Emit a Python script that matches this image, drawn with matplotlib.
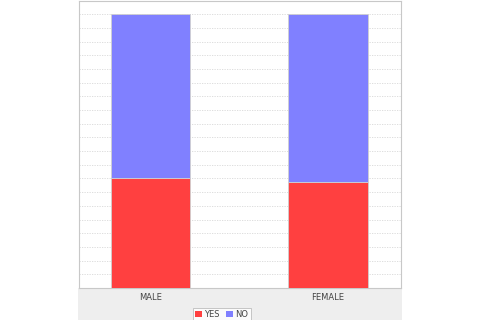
import matplotlib
matplotlib.use("Agg")
import matplotlib.pyplot as plt
from matplotlib.patches import Rectangle, Patch
import numpy as np

categories = ["MALE", "FEMALE"]
series_names = ["YES", "NO"]
yes_values = [0.401, 0.388]
no_values = [0.599, 0.612]
colors = ["#FF4040", "#8080FF"]

W, H = 480, 320
fig = plt.figure(figsize=(W / 100, H / 100), dpi=100)
fig.patch.set_facecolor("white")

# gray chart background under plot
fig.patches.append(Rectangle((78 / W, 0), (402 - 78) / W, (320 - 288) / H,
                             transform=fig.transFigure, facecolor="#EEEEEE",
                             edgecolor="none", zorder=-5))

ax = fig.add_axes([79 / W, (320 - 288) / H, (401 - 79) / W, (288 - 0.5) / H])
ax.set_facecolor("white")

x = np.arange(len(categories))
width = 0.448
ax.bar(x, yes_values, width, color=colors[0], edgecolor="#D0D0D0", linewidth=0.6, zorder=3)
ax.bar(x, no_values, width, bottom=yes_values, color=colors[1], edgecolor="#D0D0D0",
       linewidth=0.6, zorder=3)

ax.set_xlim(-0.403, 1.411)
ax.set_ylim(0, 1.05)
ax.set_yticks(np.arange(0, 1.051, 0.05))
ax.yaxis.grid(True, color="#D8D8D8", linestyle=(0, (1.5, 1.5)), linewidth=0.6, zorder=0)
ax.tick_params(axis="y", length=0, labelleft=False)
ax.set_xticks(x)
ax.set_xticklabels(categories, fontsize=6, color="#444444")
ax.tick_params(axis="x", length=0, pad=3.5)

for side in ["left", "right", "top", "bottom"]:
    ax.spines[side].set_color("#C8C8C8")
    ax.spines[side].set_linewidth(0.8)

handles = [Patch(facecolor=c, edgecolor="none") for c in colors]
leg = fig.legend(handles, series_names, loc="upper left",
                 bbox_to_anchor=(193 / W, 1 - 308 / H), ncol=2, fontsize=6,
                 frameon=True, fancybox=False, edgecolor="#B0B0B0",
                 handlelength=0.8, handleheight=0.8, handletextpad=0.3,
                 columnspacing=0.8, borderpad=0.25, borderaxespad=0)
leg.get_frame().set_linewidth(0.6)
for t in leg.get_texts():
    t.set_color("#444444")

fig.savefig("out.png", dpi=100, facecolor="white")
